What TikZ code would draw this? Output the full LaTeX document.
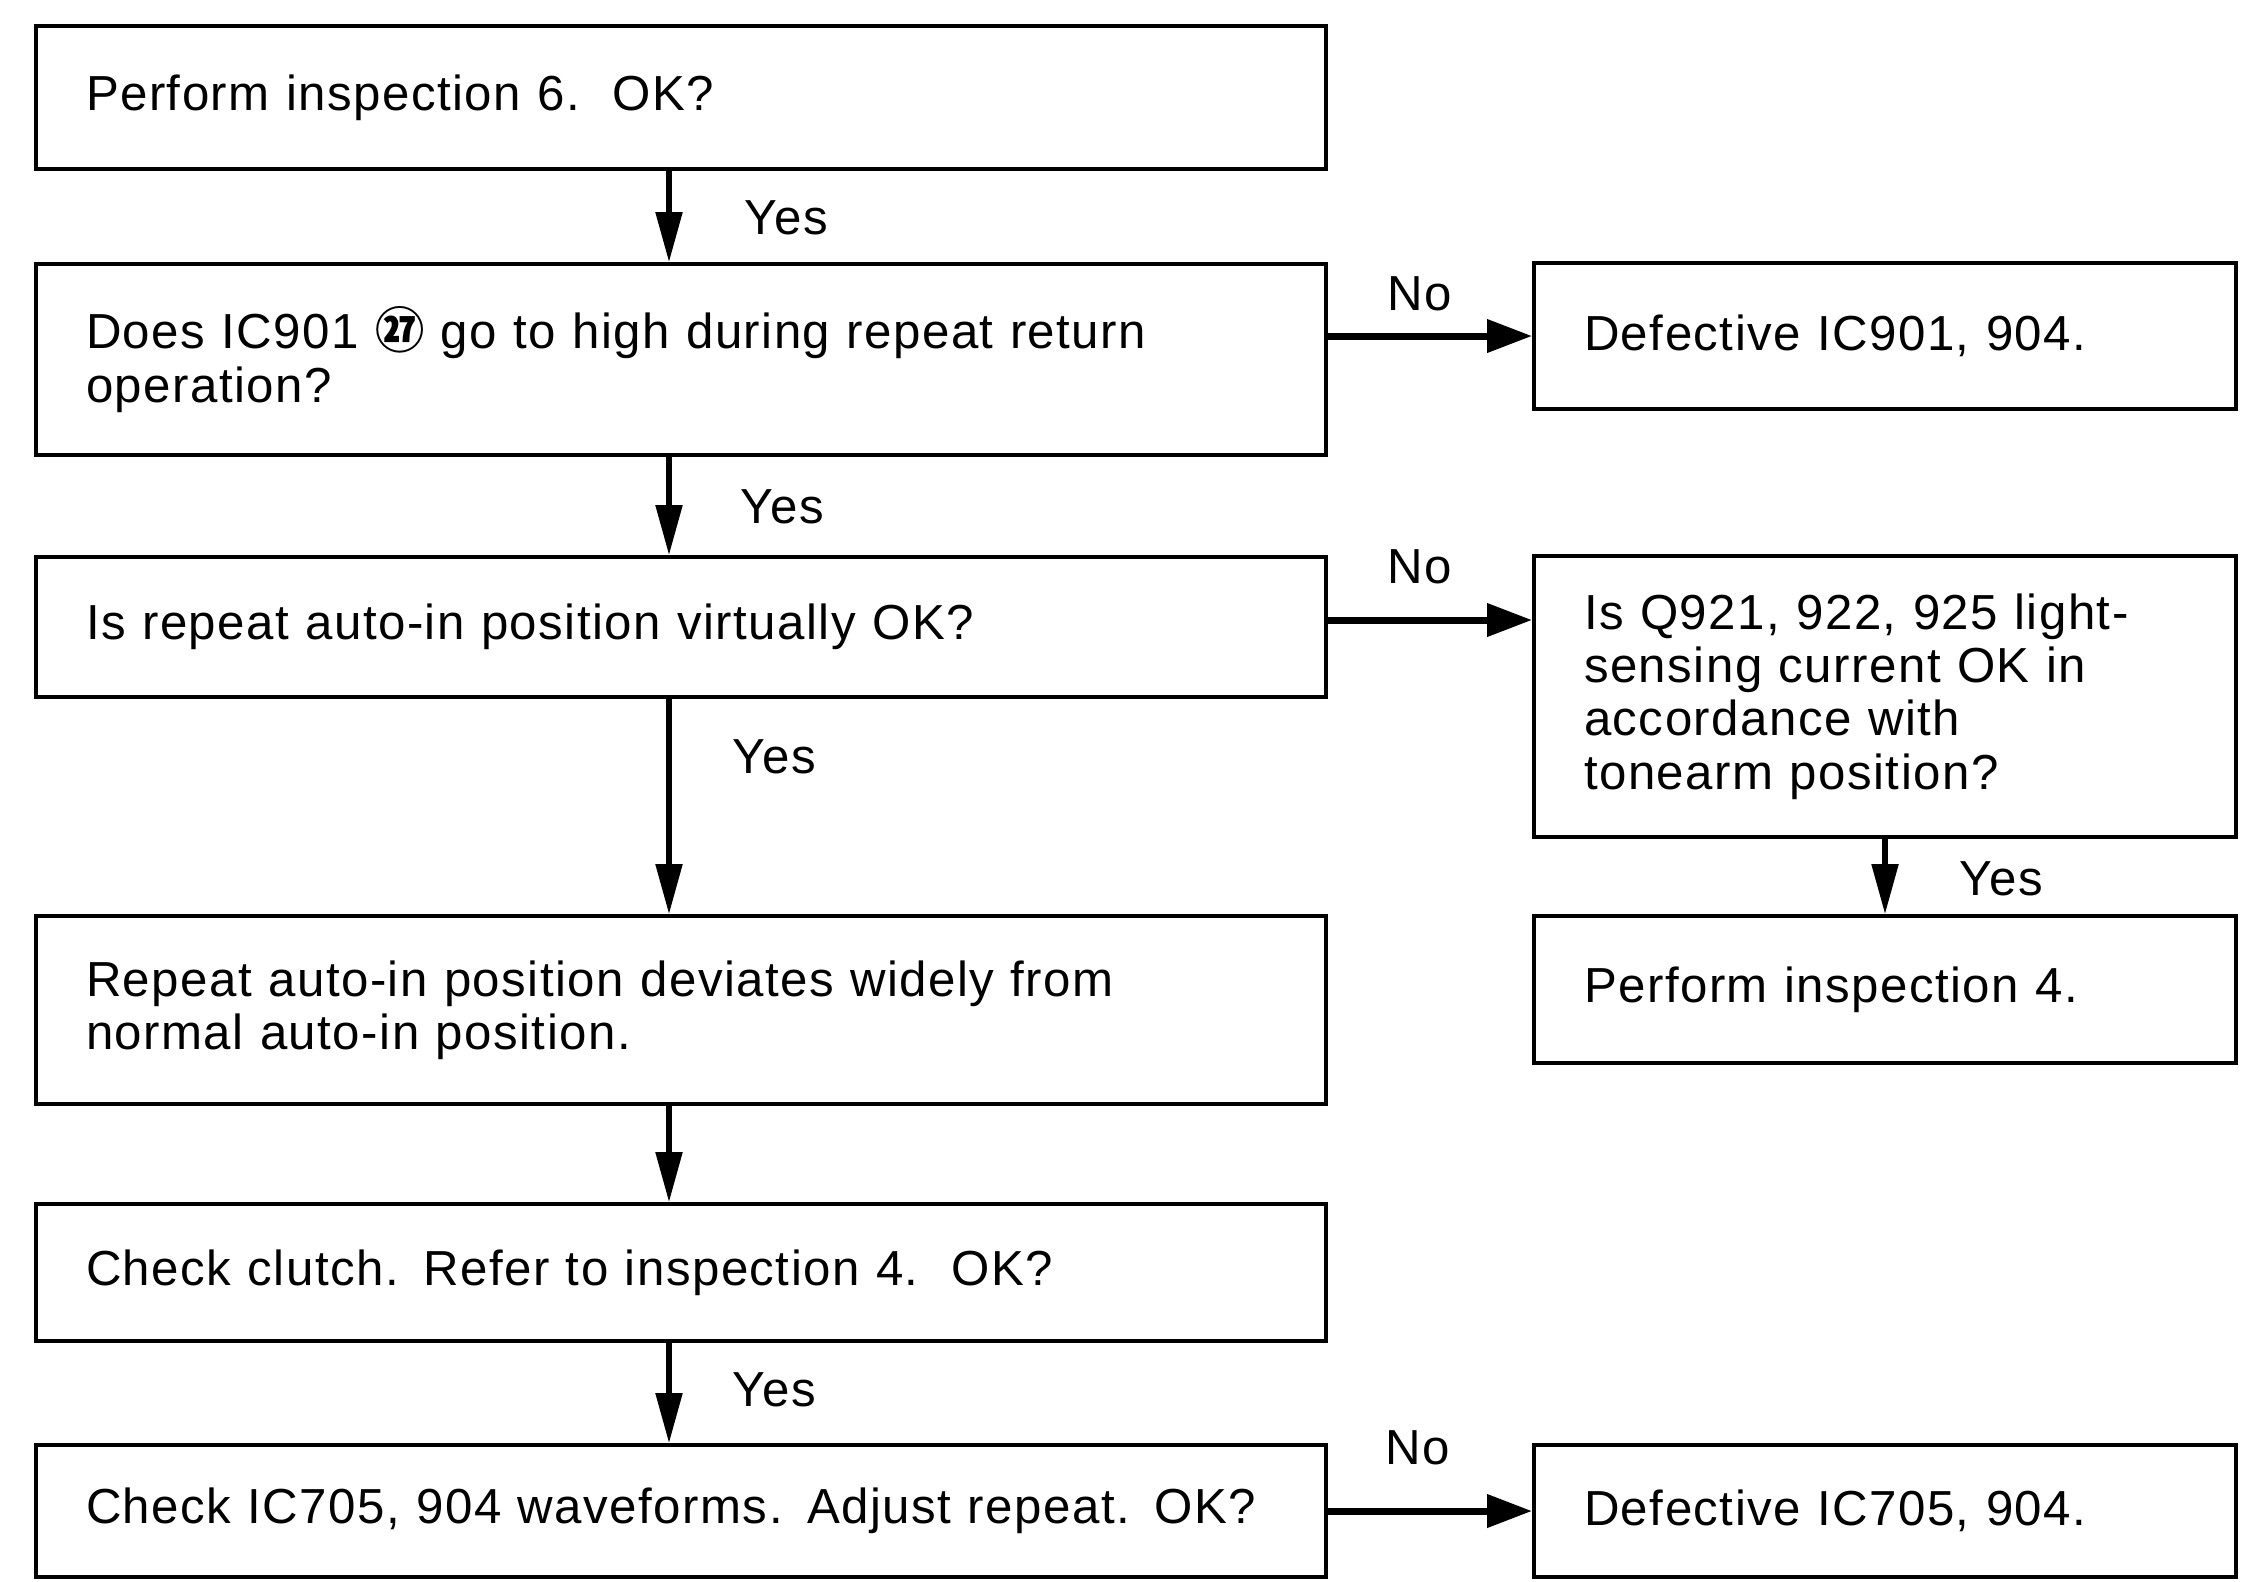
\documentclass[tikz,border=0pt]{standalone}
\usepackage{fontspec}
\setmainfont{Liberation Sans}[LetterSpace=3]
\newfontfamily\cjk{Noto Sans CJK SC}
\usetikzlibrary{arrows.meta}
\newcommand{\chartfont}{\fontsize{14}{15.2}\selectfont}
\newcommand{\pin}[1]{{\cjk\bfseries\fontsize{14}{15}\selectfont #1}}
\begin{document}
\begin{tikzpicture}[x=1cm,y=1cm,
  box/.style={draw, line width=1.1pt, rectangle, align=left,
    inner xsep=0.5cm, inner ysep=0pt, font=\chartfont},
  lbox/.style={box, text width=11.9cm},
  rbox/.style={box, text width=6.02cm},
  lbl/.style={inner sep=0pt, font=\chartfont},
  vflow/.style={line width=1.5pt, -{Triangle[length=0.5cm, width=0.26cm]}},
  hflow/.style={line width=2pt, -{Triangle[length=0.45cm, width=0.32cm]}}]
\useasboundingbox (0,0) rectangle (22.52,-15.81);

% main column
\node[lbox, minimum height=1.43cm] (b1) at (6.81,-0.975) {Perform inspection 6.\ \ OK?};
\node[lbox, minimum height=1.91cm] (b2) at (6.81,-3.595)
  {Does IC901 \pin{㉗} go to high during repeat return\\operation?};
\node[lbox, minimum height=1.40cm] (b3) at (6.81,-6.27) {Is repeat auto-in position virtually OK?};
\node[lbox, minimum height=1.88cm] (b4) at (6.81,-10.10)
  {Repeat auto-in position deviates widely from\\normal auto-in position.};
\node[lbox, minimum height=1.37cm] (b5) at (6.81,-12.725) {Check clutch. Refer to inspection 4.\ \ OK?};
\node[lbox, minimum height=1.32cm] (b6) at (6.81,-15.11) {Check IC705, 904 waveforms. Adjust repeat. OK?};

% side column
\node[rbox, minimum height=1.46cm] (r1) at (18.85,-3.36) {Defective IC901, 904.};
\node[rbox, minimum height=2.81cm] (r2) at (18.85,-6.965)
  {Is Q921, 922, 925 light-\\sensing current OK in\\accordance with\\tonearm position?};
\node[rbox, minimum height=1.47cm] (r3) at (18.85,-9.895) {Perform inspection 4.};
\node[rbox, minimum height=1.32cm] (r4) at (18.85,-15.11) {Defective IC705, 904.};

% vertical flow
\coordinate (sp) at (6.69,0);
\draw[vflow] (b1.south -| sp) -- (b2.north -| sp);
\draw[vflow] (b2.south -| sp) -- (b3.north -| sp);
\draw[vflow] (b3.south -| sp) -- (b4.north -| sp);
\draw[vflow] (b4.south -| sp) -- (b5.north -| sp);
\draw[vflow] (b5.south -| sp) -- (b6.north -| sp);
\draw[vflow] (r2.south) -- (r3.north);

% branches
\coordinate (j3) at ([yshift=0.07cm]b3.east);
\draw[hflow] (b2.east |- r1.west) -- (r1.west);
\draw[hflow] (j3) -- (j3 -| r2.west);
\draw[hflow] (b6.east) -- (b6.east -| r4.west);

% labels
\node[lbl, anchor=west] (y1) at (7.44,-2.18) {Yes};
\node[lbl, anchor=west] (y2) at (7.40,-5.07) {Yes};
\node[lbl, anchor=west] (y3) at (7.32,-7.57) {Yes};
\node[lbl, anchor=west] (y4) at (7.32,-13.90) {Yes};
\node[lbl, anchor=west] (y5) at (19.59,-8.79) {Yes};
\node[lbl] (n1) at (14.20,-2.94) {No};
\node[lbl] (n2) at (14.20,-5.67) {No};
\node[lbl] (n3) at (14.18,-14.48) {No};
\end{tikzpicture}
\end{document}
